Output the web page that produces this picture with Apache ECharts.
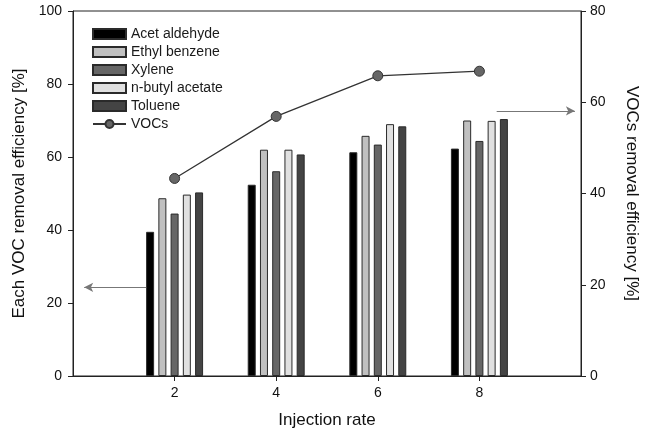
<!DOCTYPE html>
<html>
<head>
<meta charset="utf-8">
<script src="https://cdn.jsdelivr.net/npm/echarts@6/dist/echarts.min.js"></script>
<style>
  html, body { margin: 0; padding: 0; background: #fff; }
  #chart { width: 648px; height: 435px; }
</style>
</head>
<body>
<div id="chart"></div>
<script>
// 讀圖估出來的數值
const injectionRates = [2, 4, 6, 8];
const xTicks = [2, 4, 6, 8];
const acetAldehyde = [39.5, 52.4, 61.3, 62.3];
const ethylBenzene = [48.7, 62.0, 65.8, 70.0];
const xylene = [44.5, 56.1, 63.4, 64.4];
const nButylAcetate = [49.7, 62.0, 69.0, 69.9];
const toluene = [50.3, 60.7, 68.4, 70.4];
const vocs = [43.3, 56.9, 65.8, 66.8];
// 箭頭 (x, y)：左邊指向左軸，右邊指向右軸
const leftArrow = [[1.44, 24.3], [0.22, 24.3]];
const rightArrow = [[8.34, 58.1], [9.88, 58.1]];

const font = 'Liberation Sans, Arial, sans-serif';

function pairs(values) {
  return injectionRates.map((x, i) => [x, values[i]]);
}

function barSeries(name, values, color) {
  return {
    name: name,
    type: 'bar',
    yAxisIndex: 0,
    data: pairs(values),
    barWidth: 8,
    barGap: '53%',
    itemStyle: { color: color, borderColor: '#2a2a2a', borderWidth: 1 }
  };
}

// 箭頭用一條沒有資料的 line series 掛 markLine（掛在 bar 上會被 bar 的偏移推走）
function arrowSeries(points, yIndex) {
  return {
    name: 'arrow' + yIndex,
    type: 'line',
    yAxisIndex: yIndex,
    data: [],
    markLine: {
      silent: true,
      symbol: ['none', 'arrow'],
      symbolSize: [7, 9],
      label: { show: false },
      lineStyle: { color: '#777', width: 1.2, type: 'solid' },
      data: [[{ coord: points[0] }, { coord: points[1] }]]
    }
  };
}

const chart = echarts.init(document.getElementById('chart'), null, { renderer: 'canvas' });

const option = {
  animation: false,
  backgroundColor: '#fff',
  textStyle: { fontFamily: font },
  grid: {
    left: 73, right: 67, top: 11, bottom: 59,
    show: true, borderColor: '#222', borderWidth: 1
  },
  legend: {
    orient: 'vertical',
    left: 92,
    top: 27,
    padding: 0,
    itemWidth: 33,
    itemHeight: 10,
    itemGap: 4,
    textStyle: { fontFamily: font, fontSize: 14, color: '#1a1a1a' },
    data: [
      { name: 'Acet aldehyde', icon: 'rect' },
      { name: 'Ethyl benzene', icon: 'rect' },
      { name: 'Xylene', icon: 'rect' },
      { name: 'n-butyl acetate', icon: 'rect' },
      { name: 'Toluene', icon: 'rect' },
      'VOCs'
    ]
  },
  xAxis: {
    type: 'value',
    min: 0,
    max: 10,
    interval: 2,
    name: 'Injection rate',
    nameLocation: 'middle',
    nameGap: 36,
    nameTextStyle: { fontFamily: font, fontSize: 17, color: '#111' },
    axisLine: { lineStyle: { color: '#222' } },
    axisTick: { inside: false, length: 5, customValues: xTicks, lineStyle: { color: '#222' } },
    axisLabel: { customValues: xTicks, fontSize: 14, color: '#111', margin: 10 },
    splitLine: { show: false }
  },
  yAxis: [
    {
      type: 'value',
      min: 0,
      max: 100,
      interval: 20,
      position: 'left',
      name: 'Each VOC removal efficiency [%]',
      nameLocation: 'middle',
      nameGap: 44,
      nameTextStyle: { fontFamily: font, fontSize: 17, color: '#111' },
      axisLine: { show: true, lineStyle: { color: '#222' } },
      axisTick: { show: true, length: 5, lineStyle: { color: '#222' } },
      axisLabel: { fontSize: 14, color: '#111', margin: 11 },
      splitLine: { show: false }
    },
    {
      type: 'value',
      min: 0,
      max: 80,
      interval: 20,
      position: 'right',
      name: 'VOCs removal efficiency [%]',
      nameLocation: 'middle',
      nameRotate: -90,
      nameGap: 42,
      nameTextStyle: { fontFamily: font, fontSize: 17, color: '#111' },
      axisLine: { show: true, lineStyle: { color: '#222' } },
      axisTick: { show: true, length: 5, lineStyle: { color: '#222' } },
      axisLabel: { fontSize: 14, color: '#111', margin: 9 },
      splitLine: { show: false }
    }
  ],
  series: [
    barSeries('Acet aldehyde', acetAldehyde, '#000000'),
    barSeries('Ethyl benzene', ethylBenzene, '#c0c0c0'),
    barSeries('Xylene', xylene, '#666666'),
    barSeries('n-butyl acetate', nButylAcetate, '#e0e0e0'),
    barSeries('Toluene', toluene, '#444444'),
    {
      name: 'VOCs',
      type: 'line',
      yAxisIndex: 1,
      data: pairs(vocs),
      symbol: 'circle',
      symbolSize: 10,
      lineStyle: { color: '#333', width: 1.3 },
      itemStyle: { color: '#666', borderColor: '#333', borderWidth: 1 }
    },
    arrowSeries(leftArrow, 0),
    arrowSeries(rightArrow, 1)
  ]
};

chart.setOption(option);
window.addEventListener('resize', chart.resize);
</script>
</body>
</html>
